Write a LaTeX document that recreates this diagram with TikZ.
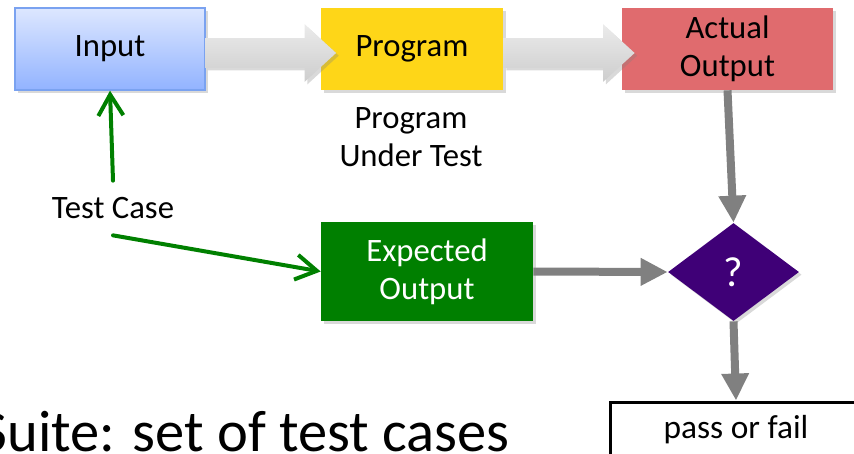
\documentclass[tikz,border=0pt]{standalone}
\usepackage{fontspec}
\setmainfont{Carlito}
\usetikzlibrary{arrows.meta,shapes.geometric,shapes.arrows,shadows}
\definecolor{inputtop}{HTML}{DDE7FF}
\definecolor{inputbot}{HTML}{92B3FF}
\definecolor{inputedge}{HTML}{7AA2F0}
\definecolor{progyellow}{HTML}{FED618}
\definecolor{actualred}{HTML}{E06B6E}
\definecolor{expgreen}{HTML}{007F00}
\definecolor{diapurple}{HTML}{3F0077}
\definecolor{arrowtop}{HTML}{EBEBEB}
\definecolor{arrowbot}{HTML}{CDCDCD}
\definecolor{arrowgray}{HTML}{808080}
\definecolor{linegreen}{HTML}{008000}
\tikzset{
  boxshadow/.style={drop shadow={opacity=0.3, shadow xshift=1.5pt, shadow yshift=-1.5pt}},
  boxfont/.style={font=\fontsize{18.6}{21.5}\selectfont},
  box/.style={minimum height=1.64cm, inner sep=0pt, align=center, boxfont, boxshadow},
  fatarrow/.style={single arrow, minimum height=2.62cm, inner xsep=0pt, inner ysep=0.29cm,
    single arrow head extend=0.28cm, single arrow tip angle=85,
    top color=arrowtop, bottom color=arrowbot, boxshadow},
  grayline/.style={draw=arrowgray, line width=0.16cm, -{Triangle[length=0.54cm,width=0.52cm]}},
  greenline/.style={draw=linegreen, line width=0.08cm, line cap=round, line join=round,
    -{Straight Barb[length=0.42cm,width=0.5cm]}}
}
\begin{document}
\begin{tikzpicture}[x=0.02cm, y=-0.02cm]
\useasboundingbox (0,0) rectangle (854,453);
\clip (0,0) rectangle (854,453);

\node[box, minimum width=3.8cm, top color=inputtop, bottom color=inputbot, draw=inputedge, line width=0.8pt] (in) at (110,49) {Input};
\node[box, minimum width=3.64cm, fill=progyellow] (prog) at (412,49) {Program};
\node[box, minimum width=4.22cm, fill=actualred] (act) at (727.5,49) {Actual\\Output};

\node[fatarrow] (a1) at (262.5,53) {};
\node[fatarrow] (a2) at (561,53) {};

\node[align=center, font=\fontsize{18.6}{22}\selectfont] (put) at (411,137) {Program\\Under Test};

\node[box, minimum width=4.24cm, minimum height=1.98cm, fill=expgreen, text=white] (ex) at (427,271.5) {Expected\\Output};
\node[diamond, minimum width=2.62cm, minimum height=1.96cm, inner sep=0pt, fill=diapurple, text=white,
  font=\fontsize{24}{28}\selectfont, boxshadow] (dia) at (733.5,272) {?};
\node[draw, line width=0.06cm, minimum width=5.04cm, minimum height=1.12cm, inner sep=0pt,
  font=\fontsize{19}{22}\selectfont] (pf) at (736,430) {pass or fail};

\node[minimum height=1.08cm, inner sep=0pt, boxfont] (tc) at (113,208) {Test Case};

\draw[grayline] (act.south) -- (dia.north);
\draw[grayline] (ex.east) -- (dia.west);
\draw[grayline] (dia.south) -- (pf.north);

\draw[greenline] (tc.north) -- (in.south);
\draw[greenline] (tc.south) -- (ex.west);

\node[anchor=base east, inner sep=0pt, font=\fontsize{33.3}{38}\selectfont] (suite) at (510,451) {Suite: set of test cases};

\end{tikzpicture}
\end{document}
